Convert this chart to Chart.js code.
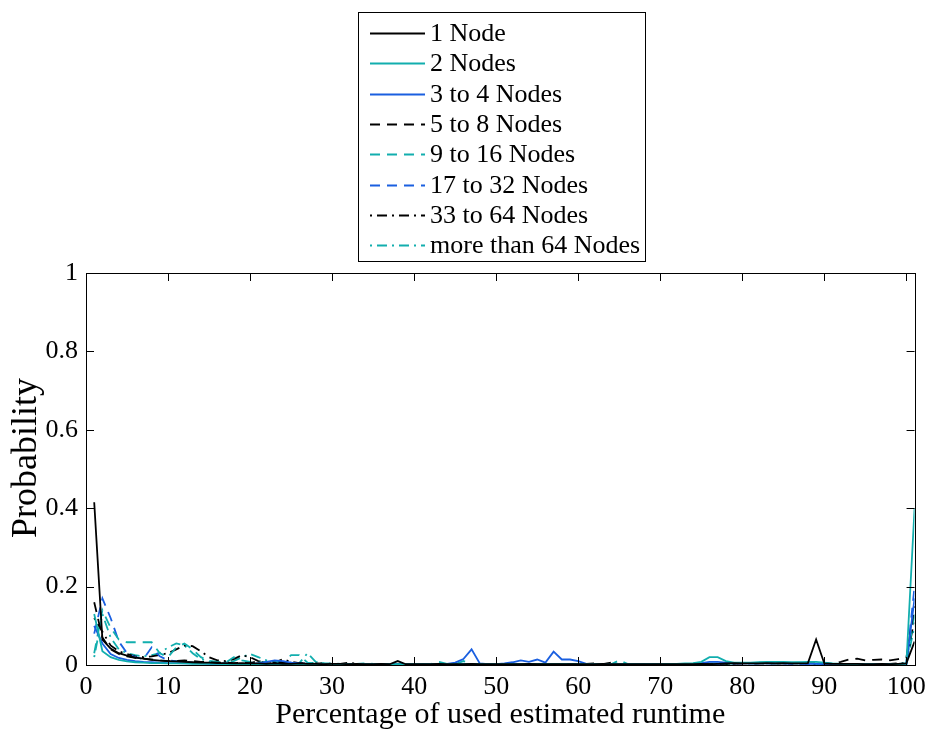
<!DOCTYPE html>
<html lang="en">
<head>
    <meta charset="UTF-8">
    <title>Runtime usage probability</title>
    <script src="https://cdn.jsdelivr.net/npm/chart.js"></script>
    <style>
        body {
            margin: 0;
            background: #fff;
        }
        #wrap {
            width: 933px;
            height: 729px;
        }
    </style>
</head>
<body>
    <div id="wrap">
        <canvas id="runtimeChart" width="933" height="729"></canvas>
    </div>
    <script>
// percentage of used estimated runtime (1..101)
const percent = Array.from({ length: 101 }, (_, i) => i + 1);
const xTicks = [0, 10, 20, 30, 40, 50, 60, 70, 80, 90, 100];
const yTicks = [0, 0.2, 0.4, 0.6, 0.8, 1];

const seriesNames = ['1 Node', '2 Nodes', '3 to 4 Nodes', '5 to 8 Nodes',
    '9 to 16 Nodes', '17 to 32 Nodes', '33 to 64 Nodes', 'more than 64 Nodes'];

const oneNode = [
    0.415, 0.065, 0.042, 0.030, 0.024, 0.019, 0.016, 0.013, 0.011, 0.010,
    0.009, 0.008, 0.007, 0.006, 0.006, 0.005, 0.005, 0.004, 0.005, 0.004,
    0.004, 0.003, 0.004, 0.003, 0.003, 0.004, 0.003, 0.003, 0.002, 0.003,
    0.003, 0.002, 0.003, 0.002, 0.002, 0.003, 0.002, 0.010, 0.002, 0.002,
    0.002, 0.002, 0.003, 0.002, 0.002, 0.002, 0.003, 0.002, 0.002, 0.002,
    0.002, 0.002, 0.002, 0.003, 0.002, 0.002, 0.002, 0.002, 0.002, 0.002,
    0.002, 0.002, 0.003, 0.002, 0.002, 0.002, 0.002, 0.002, 0.002, 0.002,
    0.002, 0.002, 0.002, 0.002, 0.003, 0.002, 0.003, 0.004, 0.005, 0.004,
    0.004, 0.004, 0.005, 0.004, 0.005, 0.004, 0.004, 0.005, 0.065, 0.004,
    0.003, 0.003, 0.003, 0.003, 0.002, 0.002, 0.003, 0.002, 0.003, 0.004,
    0.060
];
const twoNodes = [
    0.130, 0.035, 0.020, 0.013, 0.009, 0.007, 0.006, 0.005, 0.005, 0.004,
    0.004, 0.004, 0.003, 0.003, 0.003, 0.003, 0.002, 0.003, 0.002, 0.002,
    0.003, 0.002, 0.002, 0.003, 0.002, 0.002, 0.002, 0.002, 0.002, 0.002,
    0.002, 0.002, 0.002, 0.002, 0.002, 0.002, 0.002, 0.002, 0.002, 0.002,
    0.002, 0.002, 0.002, 0.002, 0.002, 0.002, 0.002, 0.002, 0.002, 0.002,
    0.002, 0.002, 0.002, 0.002, 0.002, 0.002, 0.002, 0.002, 0.002, 0.002,
    0.002, 0.002, 0.002, 0.002, 0.002, 0.002, 0.002, 0.002, 0.002, 0.002,
    0.003, 0.003, 0.004, 0.005, 0.008, 0.020, 0.020, 0.010, 0.006, 0.006,
    0.006, 0.007, 0.008, 0.008, 0.008, 0.007, 0.007, 0.008, 0.008, 0.006,
    0.004, 0.003, 0.002, 0.002, 0.002, 0.002, 0.002, 0.002, 0.002, 0.003,
    0.400
];
const threeToFour = [
    0.100, 0.055, 0.028, 0.018, 0.013, 0.010, 0.008, 0.007, 0.006, 0.005,
    0.005, 0.004, 0.004, 0.004, 0.003, 0.003, 0.003, 0.003, 0.003, 0.003,
    0.004, 0.008, 0.012, 0.010, 0.006, 0.004, 0.003, 0.003, 0.002, 0.002,
    0.002, 0.002, 0.002, 0.002, 0.002, 0.002, 0.002, 0.002, 0.002, 0.002,
    0.002, 0.002, 0.002, 0.003, 0.006, 0.015, 0.040, 0.004, 0.002, 0.002,
    0.004, 0.007, 0.012, 0.008, 0.014, 0.006, 0.034, 0.014, 0.014, 0.010,
    0.003, 0.002, 0.002, 0.002, 0.002, 0.002, 0.002, 0.002, 0.002, 0.002,
    0.002, 0.002, 0.002, 0.003, 0.005, 0.008, 0.008, 0.006, 0.005, 0.004,
    0.004, 0.004, 0.004, 0.004, 0.004, 0.004, 0.004, 0.003, 0.003, 0.003,
    0.003, 0.003, 0.003, 0.002, 0.002, 0.002, 0.002, 0.002, 0.002, 0.003,
    0.170
];
const fiveToEight = [
    0.160, 0.070, 0.040, 0.028, 0.022, 0.018, 0.016, 0.014, 0.012, 0.010,
    0.010, 0.012, 0.010, 0.008, 0.007, 0.006, 0.006, 0.005, 0.006, 0.005,
    0.010, 0.004, 0.005, 0.008, 0.004, 0.004, 0.004, 0.003, 0.004, 0.003,
    0.003, 0.003, 0.002, 0.003, 0.003, 0.002, 0.003, 0.003, 0.002, 0.002,
    0.002, 0.002, 0.003, 0.002, 0.002, 0.002, 0.002, 0.002, 0.002, 0.002,
    0.002, 0.002, 0.003, 0.002, 0.002, 0.002, 0.002, 0.003, 0.002, 0.002,
    0.003, 0.004, 0.002, 0.002, 0.003, 0.002, 0.002, 0.002, 0.002, 0.002,
    0.002, 0.002, 0.003, 0.002, 0.002, 0.002, 0.003, 0.003, 0.004, 0.004,
    0.004, 0.005, 0.004, 0.005, 0.004, 0.004, 0.004, 0.004, 0.004, 0.003,
    0.003, 0.008, 0.014, 0.016, 0.012, 0.013, 0.014, 0.012, 0.015, 0.018,
    0.150
];
const nineToSixteen = [
    0.030, 0.140, 0.095, 0.065, 0.058, 0.058, 0.058, 0.058, 0.030, 0.020,
    0.045, 0.055, 0.040, 0.020, 0.010, 0.008, 0.006, 0.020, 0.012, 0.008,
    0.006, 0.008, 0.010, 0.006, 0.025, 0.025, 0.006, 0.005, 0.004, 0.004,
    0.003, 0.003, 0.003, 0.004, 0.003, 0.003, 0.003, 0.003, 0.002, 0.003,
    0.003, 0.002, 0.008, 0.003, 0.002, 0.010, 0.003, 0.002, 0.002, 0.002,
    0.002, 0.002, 0.002, 0.003, 0.002, 0.002, 0.002, 0.002, 0.003, 0.002,
    0.002, 0.003, 0.002, 0.002, 0.012, 0.003, 0.002, 0.002, 0.003, 0.002,
    0.002, 0.002, 0.002, 0.003, 0.003, 0.004, 0.004, 0.004, 0.005, 0.005,
    0.005, 0.006, 0.006, 0.006, 0.005, 0.005, 0.006, 0.005, 0.004, 0.004,
    0.003, 0.003, 0.003, 0.002, 0.002, 0.002, 0.002, 0.002, 0.003, 0.004,
    0.130
];
const seventeenToThirtyTwo = [
    0.080, 0.170, 0.120, 0.060, 0.030, 0.020, 0.015, 0.045, 0.022, 0.012,
    0.010, 0.008, 0.006, 0.005, 0.005, 0.004, 0.004, 0.004, 0.003, 0.003,
    0.004, 0.003, 0.003, 0.004, 0.006, 0.003, 0.003, 0.002, 0.003, 0.002,
    0.002, 0.002, 0.002, 0.002, 0.002, 0.003, 0.002, 0.002, 0.002, 0.002,
    0.002, 0.002, 0.002, 0.002, 0.002, 0.003, 0.002, 0.002, 0.002, 0.002,
    0.002, 0.002, 0.002, 0.002, 0.002, 0.002, 0.002, 0.002, 0.002, 0.002,
    0.002, 0.002, 0.002, 0.002, 0.002, 0.002, 0.002, 0.002, 0.002, 0.002,
    0.002, 0.002, 0.002, 0.002, 0.002, 0.003, 0.003, 0.003, 0.004, 0.004,
    0.004, 0.004, 0.004, 0.004, 0.004, 0.003, 0.003, 0.003, 0.003, 0.003,
    0.002, 0.002, 0.002, 0.002, 0.002, 0.002, 0.002, 0.002, 0.002, 0.003,
    0.200
];
const thirtyThreeToSixtyFour = [
    0.120, 0.085, 0.050, 0.035, 0.028, 0.022, 0.020, 0.022, 0.026, 0.030,
    0.040, 0.050, 0.048, 0.035, 0.020, 0.012, 0.010, 0.015, 0.025, 0.020,
    0.010, 0.008, 0.006, 0.015, 0.008, 0.005, 0.004, 0.004, 0.003, 0.003,
    0.003, 0.006, 0.003, 0.003, 0.002, 0.003, 0.003, 0.002, 0.002, 0.002,
    0.002, 0.003, 0.002, 0.002, 0.002, 0.002, 0.002, 0.002, 0.003, 0.002,
    0.002, 0.002, 0.002, 0.002, 0.002, 0.002, 0.002, 0.002, 0.002, 0.002,
    0.002, 0.002, 0.002, 0.006, 0.002, 0.002, 0.002, 0.002, 0.002, 0.002,
    0.002, 0.002, 0.002, 0.002, 0.002, 0.003, 0.003, 0.003, 0.003, 0.004,
    0.004, 0.004, 0.005, 0.004, 0.004, 0.004, 0.004, 0.003, 0.003, 0.003,
    0.003, 0.003, 0.003, 0.002, 0.002, 0.002, 0.002, 0.003, 0.004, 0.005,
    0.120
];
const moreThanSixtyFour = [
    0.020, 0.130, 0.070, 0.040, 0.030, 0.025, 0.022, 0.025, 0.030, 0.045,
    0.055, 0.050, 0.030, 0.015, 0.010, 0.008, 0.006, 0.010, 0.020, 0.028,
    0.020, 0.012, 0.008, 0.006, 0.005, 0.005, 0.030, 0.008, 0.004, 0.003,
    0.003, 0.003, 0.003, 0.003, 0.003, 0.002, 0.002, 0.002, 0.003, 0.002,
    0.002, 0.002, 0.002, 0.002, 0.002, 0.002, 0.002, 0.002, 0.002, 0.002,
    0.002, 0.002, 0.002, 0.002, 0.002, 0.002, 0.002, 0.002, 0.002, 0.002,
    0.002, 0.002, 0.002, 0.002, 0.002, 0.002, 0.002, 0.002, 0.002, 0.002,
    0.002, 0.002, 0.002, 0.002, 0.002, 0.003, 0.003, 0.003, 0.004, 0.004,
    0.004, 0.004, 0.004, 0.004, 0.004, 0.004, 0.004, 0.004, 0.003, 0.003,
    0.002, 0.002, 0.002, 0.002, 0.002, 0.002, 0.002, 0.002, 0.002, 0.002,
    0.100
];

const allSeries = [oneNode, twoNodes, threeToFour, fiveToEight,
    nineToSixteen, seventeenToThirtyTwo, thirtyThreeToSixtyFour, moreThanSixtyFour];

const BLACK = '#000000';
const TEAL = '#12aeae';
const BLUE = '#1a5fe0';
const colors = [BLACK, TEAL, BLUE, BLACK, TEAL, BLUE, BLACK, TEAL];
const dashes = [[], [], [], [10, 7], [10, 7], [10, 7], [2, 5, 10, 5], [2, 5, 10, 5]];

const SERIF = '"Liberation Serif", "Times New Roman", serif';

// box around the plot plus inward ticks on every side, and the y title
const frameTicks = {
    id: 'frameTicks',
    afterDatasetsDraw(chart) {
        const { ctx, chartArea: a, scales } = chart;
        const len = 8;
        ctx.save();
        ctx.strokeStyle = '#000';
        ctx.lineWidth = 1;
        ctx.beginPath();
        xTicks.forEach(v => {
            const px = Math.round(scales.x.getPixelForValue(v)) + 0.5;
            ctx.moveTo(px, a.bottom); ctx.lineTo(px, a.bottom - len);
            ctx.moveTo(px, a.top); ctx.lineTo(px, a.top + len);
        });
        yTicks.forEach(v => {
            const py = Math.round(scales.y.getPixelForValue(v)) + 0.5;
            ctx.moveTo(a.left, py); ctx.lineTo(a.left + len, py);
            ctx.moveTo(a.right, py); ctx.lineTo(a.right - len, py);
        });
        ctx.stroke();
        ctx.strokeRect(Math.round(a.left) + 0.5, Math.round(a.top) + 0.5,
            Math.round(a.right - a.left), Math.round(a.bottom - a.top));

        ctx.translate(27, 458);
        ctx.rotate(-Math.PI / 2);
        ctx.font = '36px ' + SERIF;
        ctx.fillStyle = '#000';
        ctx.textAlign = 'center';
        ctx.textBaseline = 'middle';
        ctx.fillText('Probability', 0, 0);
        ctx.restore();
    }
};

// boxed legend, one entry per row, above the plot
const boxLegend = {
    id: 'boxLegend',
    afterDraw(chart) {
        const { ctx } = chart;
        const left = 358, top = 12, width = 287, height = 249;
        const rowH = 30.3, firstRow = 33;
        ctx.save();
        ctx.fillStyle = '#fff';
        ctx.fillRect(left, top, width, height);
        ctx.strokeStyle = '#000';
        ctx.lineWidth = 1;
        ctx.strokeRect(left + 0.5, top + 0.5, width, height);
        ctx.font = '26px ' + SERIF;
        ctx.textBaseline = 'middle';
        chart.data.datasets.forEach((ds, i) => {
            const y = Math.round(top + firstRow - 12 + i * rowH) + 0.5;
            ctx.strokeStyle = ds.borderColor;
            ctx.lineWidth = 1.8;
            ctx.setLineDash(ds.borderDash);
            ctx.beginPath();
            ctx.moveTo(370, y);
            ctx.lineTo(425, y);
            ctx.stroke();
            ctx.setLineDash([]);
            ctx.fillStyle = '#000';
            ctx.fillText(ds.label, 430, y + 1);
        });
        ctx.restore();
    }
};

const ctx = document.getElementById('runtimeChart').getContext('2d');
const runtimeChart = new Chart(ctx, {
    type: 'line',
    data: {
        datasets: seriesNames.map((name, i) => ({
            label: name,
            data: percent.map((p, j) => ({ x: p, y: allSeries[i][j] })),
            borderColor: colors[i],
            borderDash: dashes[i],
            borderWidth: 1.8,
            pointRadius: 0,
            tension: 0,
            fill: false
        }))
    },
    options: {
        responsive: false,
        animation: false,
        layout: { padding: { top: 273, right: 14, left: 0, bottom: 0 } },
        plugins: {
            legend: { display: false },
            tooltip: { enabled: false }
        },
        scales: {
            x: {
                type: 'linear',
                min: 0,
                max: 101,
                grid: { display: false, drawTicks: false },
                border: { display: false },
                afterBuildTicks: s => { s.ticks = xTicks.map(v => ({ value: v })); },
                afterFit: s => { s.height = 64; },
                ticks: {
                    color: '#000',
                    padding: 7,
                    maxRotation: 0,
                    font: { family: SERIF, size: 26 }
                },
                title: {
                    display: true,
                    text: 'Percentage of used estimated runtime',
                    color: '#000',
                    padding: { top: 0, bottom: 0 },
                    font: { family: SERIF, size: 30, lineHeight: 0.9 }
                }
            },
            y: {
                min: 0,
                max: 1,
                grid: { display: false, drawTicks: false },
                border: { display: false },
                afterBuildTicks: s => { s.ticks = yTicks.map(v => ({ value: v })); },
                afterFit: s => { s.width = 86; },
                ticks: {
                    color: '#000',
                    padding: 8,
                    font: { family: SERIF, size: 26 },
                    callback: v => String(+v.toFixed(1))
                }
            }
        }
    },
    plugins: [frameTicks, boxLegend]
});
    </script>
</body>
</html>
